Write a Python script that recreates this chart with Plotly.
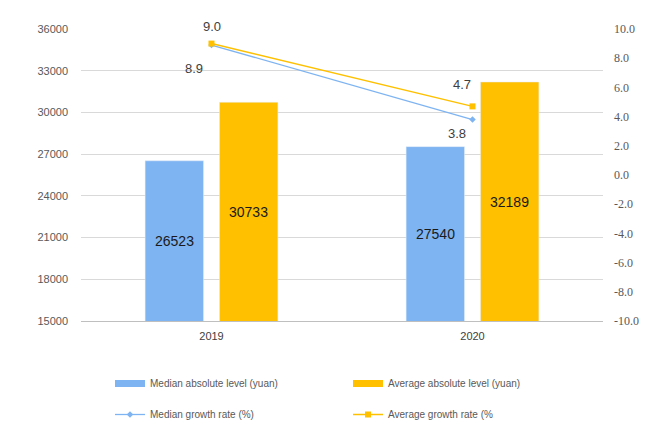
import plotly.graph_objects as go

years = ["2019", "2020"]
median_level = [26523, 27540]
average_level = [30733, 32189]
median_growth = [8.9, 3.8]
average_growth = [9.0, 4.7]
left_ticks = [15000, 18000, 21000, 24000, 27000, 30000, 33000, 36000]
right_ticks = [-10, -8, -6, -4, -2, 0, 2, 4, 6, 8, 10]
y_floor = 15000

blue = "#7EB4F2"
gold = "#FFC000"
legend_font = dict(size=10, color="#595959", family="Liberation Sans")
label_font = dict(color="#404040", size=13, family="Liberation Sans")

fig = go.Figure()
fig.add_trace(go.Bar(x=years, y=median_level, name="Median absolute level (yuan)",
                     marker_color=blue, showlegend=False))
fig.add_trace(go.Bar(x=years, y=average_level, name="Average absolute level (yuan)",
                     marker_color=gold, showlegend=False))
# legend-only swatches for bars (wide flat rectangles)
fig.add_trace(go.Scatter(x=years[:1], y=[None], mode="lines", name="Median absolute level (yuan)",
                         line=dict(color=blue, width=7), legend="legend"))
fig.add_trace(go.Scatter(x=years[:1], y=[None], mode="lines", name="Average absolute level (yuan)",
                         line=dict(color=gold, width=7), legend="legend"))
fig.add_trace(go.Scatter(x=years, y=median_growth, name="Median growth rate (%)",
                         yaxis="y2", mode="lines+markers", cliponaxis=False,
                         line=dict(color=blue, width=1.3),
                         marker=dict(symbol="diamond", size=5, color=blue),
                         legend="legend2"))
fig.add_trace(go.Scatter(x=years, y=average_growth, name="Average growth rate (%",
                         yaxis="y2", mode="lines+markers", cliponaxis=False,
                         line=dict(color=gold, width=1.5),
                         marker=dict(symbol="square", size=6, color=gold),
                         legend="legend2"))

# value labels centred in visible part of bars
for vals, shift in ((median_level, -37), (average_level, 37)):
    for i, v in enumerate(vals):
        fig.add_annotation(x=i, y=(y_floor + v) / 2, text=str(v), showarrow=False,
                           xshift=shift, font=dict(color="#1a1a1a", size=14, family="Liberation Sans"))

# growth-rate labels
median_offsets = [(-18, -23), (-16, -14)]
average_offsets = [(0, 17), (-11, 22)]
for vals, offs in ((median_growth, median_offsets), (average_growth, average_offsets)):
    for i, (v, (dx, dy)) in enumerate(zip(vals, offs)):
        fig.add_annotation(x=i, y=v, yref="y2", text=f"{v:.1f}", showarrow=False,
                           xshift=dx, yshift=dy, font=label_font)

fig.update_layout(
    width=660, height=441,
    margin=dict(l=81, r=57, t=29, b=120),
    paper_bgcolor="white", plot_bgcolor="white",
    barmode="group", bargap=0.43, bargroupgap=0.215,
    font=dict(family="Liberation Sans", color="#595959"),
    xaxis=dict(type="category", categoryorder="array", categoryarray=years, range=[-0.5, 1.5],
               showline=True, linecolor="#bfbfbf", linewidth=1, ticklabelstandoff=5,
               ticks="", tickfont=dict(size=11, color="#404040")),
    yaxis=dict(range=[15000, 36000], tickvals=left_ticks, ticktext=[str(v) for v in left_ticks],
               showgrid=True, gridcolor="#d9d9d9", zeroline=False, ticks="", ticklabelstandoff=12,
               tickfont=dict(size=11, color="#595959")),
    yaxis2=dict(range=[-10, 10], tickvals=right_ticks, ticktext=[f"{v:.1f}" for v in right_ticks],
                overlaying="y", side="right", showgrid=False, zeroline=False,
                ticks="", ticklabelstandoff=10,
                tickfont=dict(size=12, color="#595959", family="Liberation Serif")),
    legend=dict(orientation="h", xref="container", yref="container", x=110 / 660, y=1 - 369 / 441,
                xanchor="left", yanchor="top", entrywidth=193, entrywidthmode="pixels",
                itemwidth=30, font=legend_font),
    legend2=dict(orientation="h", xref="container", yref="container", x=110 / 660, y=1 - 400 / 441,
                 xanchor="left", yanchor="top", entrywidth=193, entrywidthmode="pixels",
                 itemwidth=30, font=legend_font),
)

fig.write_html("out.html")
